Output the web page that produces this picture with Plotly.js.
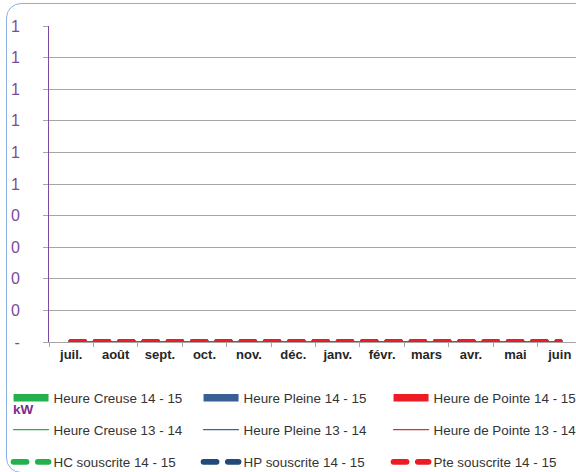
<!DOCTYPE html>
<html><head><meta charset="utf-8">
<script src="https://cdn.plot.ly/plotly-3.0.1.min.js"></script>
<style>
html,body{margin:0;padding:0;overflow:hidden;width:576px;height:472px;background:#fff;}
#chart{position:absolute;left:0;top:0;width:600px;height:472px;}
#frame{position:absolute;left:6px;top:3px;width:620px;height:470px;border:1px solid #8CB0DE;border-radius:15px;pointer-events:none;box-sizing:border-box;}
.scatterlayer .js-line, .legendlines path{stroke-linecap:round;}
</style></head>
<body><div id="chart"></div><div id="frame"></div>
<script>
const months = ['juil.','août','sept.','oct.','nov.','déc.','janv.','févr.','mars','avr.','mai','juin'];
const hc1415 = [0,0,0,0,0,0,0,0,0,0,0,0];
const hp1415 = [0,0,0,0,0,0,0,0,0,0,0,0];
const pte1415 = [0,0,0,0,0,0,0,0,0,0,0,0];
const hc1314 = [0,0,0,0,0,0,0,0,0,0,0,0];
const hp1314 = [0,0,0,0,0,0,0,0,0,0,0,0];
const pte1314 = [0,0,0,0,0,0,0,0,0,0,0,0];
const hcSous = [0,0,0,0,0,0,0,0,0,0,0,0];
const hpSous = [0,0,0,0,0,0,0,0,0,0,0,0];
const pteSous = [0,0,0,0,0,0,0,0,0,0,0,0];
const yTickVals = [0,0.1,0.2,0.3,0.4,0.5,0.6,0.7,0.8,0.9,1];
const yTickText = ['-','0','0','0','0','1','1','1','1','1','1'];

const GREEN = '#22B14C', BLUE = '#375F93', RED = '#ED1C24';
const DASH = '13px,11.3px';

const traces = [
  {type:'bar', x:months, y:hc1415, name:'Heure Creuse 14 - 15', marker:{color:GREEN}, legend:'legend'},
  {type:'bar', x:months, y:hp1415, name:'Heure Pleine 14 - 15', marker:{color:BLUE}, legend:'legend'},
  {type:'bar', x:months, y:pte1415, name:'Heure de Pointe 14 - 15', marker:{color:RED}, legend:'legend'},
  {type:'scatter', mode:'lines', x:months, y:hc1314, name:'Heure Creuse 13 - 14', line:{color:GREEN, width:1.3}, legend:'legend2'},
  {type:'scatter', mode:'lines', x:months, y:hp1314, name:'Heure Pleine 13 - 14', line:{color:'#3A659A', width:1.3}, legend:'legend2'},
  {type:'scatter', mode:'lines', x:months, y:pte1314, name:'Heure de Pointe 13 - 14', line:{color:'#E0302B', width:1.3}, legend:'legend2'},
  {type:'scatter', mode:'lines', x:months, y:hcSous, name:'HC souscrite 14 - 15', line:{color:GREEN, width:5.8, dash:DASH}, legend:'legend3'},
  {type:'scatter', mode:'lines', x:months, y:hpSous, name:'HP souscrite 14 - 15', line:{color:'#1F4A7A', width:5.8, dash:DASH}, legend:'legend3'},
  {type:'scatter', mode:'lines', x:months, y:pteSous, name:'Pte souscrite 14 - 15', line:{color:RED, width:5.8, dash:DASH}, legend:'legend3'}
];

const legFont = {family:'Liberation Sans, Arial, sans-serif', size:13.4, color:'#333333'};
function leg(y){
  return {orientation:'h', x:-0.0759, xanchor:'left', y:y, yanchor:'middle',
    entrywidth:140, entrywidthmode:'pixels', itemwidth:35, font:legFont,
    bgcolor:'rgba(0,0,0,0)', borderwidth:0, traceorder:'normal'};
}

const layout = {
  width:600, height:472,
  margin:{l:49, r:18, t:26, b:130, autoexpand:false},
  paper_bgcolor:'rgba(0,0,0,0)', plot_bgcolor:'rgba(0,0,0,0)',
  barmode:'group',
  showlegend:true,
  legend: leg(-0.177),
  legend2: leg(-0.278),
  legend3: leg(-0.380),
  xaxis:{type:'category', showgrid:false, showline:true, linecolor:'#A6A6A6', linewidth:1,
    ticks:'outside', tickson:'boundaries', ticklen:4, tickcolor:'#A6A6A6',
    tickfont:{family:'Liberation Sans, Arial, sans-serif', size:13, color:'#262626', weight:'bold'},
    zeroline:false, fixedrange:true},
  yaxis:{range:[0,1], tickmode:'array', tickvals:yTickVals, ticktext:yTickText,
    showgrid:true, gridcolor:'#A6A6A6', gridwidth:1, zeroline:false,
    showline:true, linecolor:'#7B4A9E', linewidth:1,
    ticks:'outside', ticklen:5, tickcolor:'#A6A6A6', ticklabelstandoff:20,
    tickfont:{family:'Liberation Sans, Arial, sans-serif', size:16, color:'#7B4A9E'},
    fixedrange:true},
  annotations:[{xref:'paper', yref:'paper', x:-0.0713, y:-0.215, xanchor:'left', yanchor:'middle',
    text:'kW', showarrow:false, font:{family:'Liberation Sans, Arial, sans-serif', size:13.5, color:'#7B2D8E', weight:'bold'}}]
};

function fixBars(){
  var gd = document.getElementById('chart');
  gd.querySelectorAll('.legendpoints path').forEach(function(p){
    var d = p.getAttribute('d') || '';
    if (/^M6,6H-6V-6H6Z/.test(d) || p.classList.contains('legendbar') || p.getAttribute('data-fixed')) {
      p.setAttribute('d','M-17.5,-3.75H17.5V3.75H-17.5Z');
      p.setAttribute('transform','translate(22.5,0)');
      p.style.strokeWidth = '0';
      p.setAttribute('data-fixed','1');
    }
  });
}

Plotly.newPlot('chart', traces, layout, {displayModeBar:false, staticPlot:true}).then(function(gd){
  fixBars();
  gd.on && gd.on('plotly_afterplot', fixBars);
  setTimeout(fixBars, 0);
  setTimeout(fixBars, 200);
  requestAnimationFrame(fixBars);
});
</script>
</body></html>
